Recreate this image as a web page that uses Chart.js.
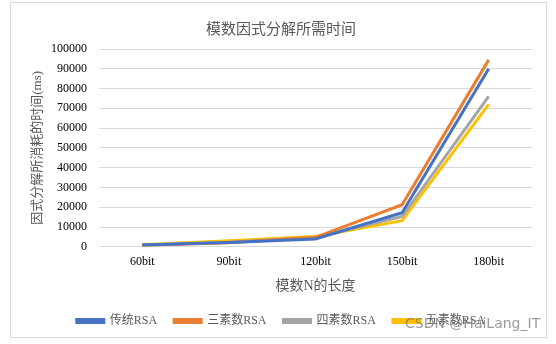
<!DOCTYPE html>
<html lang="zh">
<head>
<meta charset="UTF-8">
<title>模数因式分解所需时间</title>
<script src="https://cdn.jsdelivr.net/npm/chart.js"></script>
<style>
  body { margin:0; background:#fff; }
  #box { position:absolute; left:10px; top:2px; width:535px; height:334px; border:1px solid #d9d9d9; }
  #mark { position:absolute; left:405px; top:315px; font:14px "DejaVu Sans", sans-serif; color:rgba(120,120,120,0.75); }
</style>
</head>
<body>
<div id="box"><canvas id="myChart"></canvas></div>
<div id="mark">CSDN @HaiLang_IT</div>
<script>
// 数据
const labels = ["60bit", "90bit", "120bit", "150bit", "180bit"];
const rsa2 = [900, 2200, 4000, 17200, 90000];   // 传统RSA
const rsa3 = [800, 2000, 4800, 21300, 94500];   // 三素数RSA
const rsa4 = [900, 2300, 4700, 15300, 76000];   // 四素数RSA
const rsa5 = [1100, 3000, 5200, 13200, 72000];  // 五素数RSA
const yTicks = [0, 10000, 20000, 30000, 40000, 50000, 60000, 70000, 80000, 90000, 100000];

const fontFam = "'Liberation Serif', 'Noto Sans CJK SC', serif";

function ds(label, data, color) {
    return { label: label, data: data, borderColor: color, backgroundColor: color,
             borderWidth: 3, pointRadius: 0, tension: 0, fill: false };
}

const ctx = document.querySelector('#myChart');
const chart = new Chart(ctx, {
    type: 'line',
    data: {
        labels: labels,
        datasets: [
            ds('传统RSA', rsa2, '#4472C4'),
            ds('三素数RSA', rsa3, '#ED7D31'),
            ds('四素数RSA', rsa4, '#A5A5A5'),
            ds('五素数RSA', rsa5, '#FFC000')
        ]
    },
    options: {
        responsive: true,
        maintainAspectRatio: false,
        animation: false,
        layout: { padding: { left: 19, right: 14, top: 6, bottom: 0 } },
        plugins: {
            title: {
                display: true, text: '模数因式分解所需时间', color: '#595959',
                font: { family: fontFam, size: 15, weight: 'normal' },
                padding: { top: 12, bottom: 10 }
            },
            legend: {
                position: 'bottom',
                labels: {
                    color: '#595959', font: { family: fontFam, size: 12 },
                    boxWidth: 27, boxHeight: 3, padding: 17
                }
            },
            tooltip: { enabled: false }
        },
        scales: {
            x: {
                offset: true,
                grid: { display: false },
                border: { display: false },
                ticks: { color: '#000', font: { family: fontFam, size: 12 }, padding: 0 },
                title: { display: true, text: '模数N的长度', color: '#595959',
                         font: { family: fontFam, size: 14 }, padding: { top: 9, bottom: 3 } }
            },
            y: {
                min: 0, max: 100000,
                afterBuildTicks: (axis) => { axis.ticks = yTicks.map(v => ({ value: v })); },
                afterFit: (axis) => { axis.width = 69; },
                grid: { color: '#d9d9d9', drawTicks: false, lineWidth: 1 },
                border: { display: false },
                ticks: { color: '#000', font: { family: fontFam, size: 12 }, padding: 12,
                         autoSkip: false, callback: (v) => String(v) },
                title: { display: true, text: '因式分解所消耗的时间(ms)', color: '#595959',
                         font: { family: fontFam, size: 13 }, padding: 0 }
            }
        }
    }
});
</script>
</body>
</html>
